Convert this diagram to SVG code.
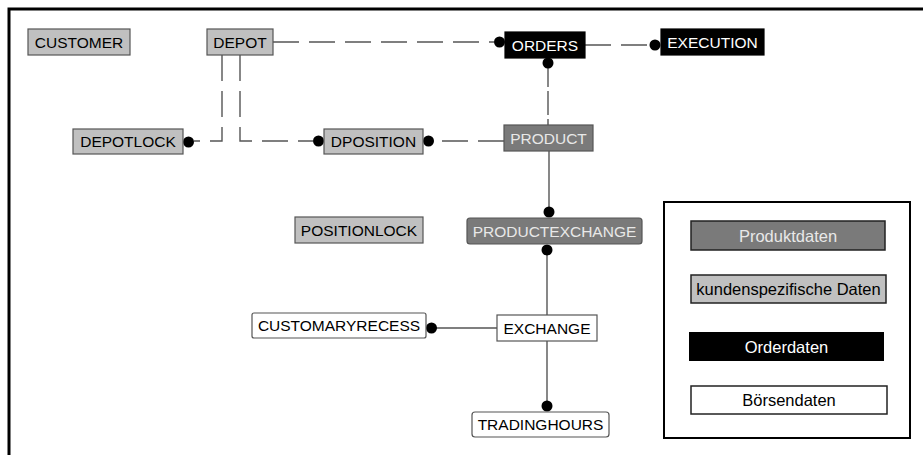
<svg xmlns="http://www.w3.org/2000/svg" width="923" height="455" viewBox="0 0 923 455">
  <style>
    text { font-family: "Liberation Sans", Arial, sans-serif; font-size: 15.5px; text-anchor: middle; }
    .box { stroke: #555; stroke-width: 1.2; }
    .cust { fill: #c0c0c0; }
    .prod { fill: #7a7a7a; }
    .order { fill: #000; stroke: #000; }
    .boerse { fill: #fff; }
    .t-dark { fill: #000; }
    .t-light { fill: #e8e8e8; }
    .t-white { fill: #fff; }
    .conn { fill: none; stroke: #555; stroke-width: 1.4; }
    .dash { stroke-dasharray: 26 10; }
    .longdash { stroke-dasharray: 24 4; }
    .dot { fill: #000; }
    .legend text { font-size: 16.5px; }
  </style>

  <rect x="9" y="9" width="940" height="470" fill="#fff" stroke="#000" stroke-width="3"/>

  <g id="connectors">
    <path class="conn dash" d="M273,42 H494"/>
    <circle class="dot" cx="499.5" cy="42" r="5.5"/>
    <path class="conn dash" d="M585,45 H650"/>
    <circle class="dot" cx="655" cy="45" r="5.5"/>
    <path class="conn longdash" d="M548,63 V125"/>
    <circle class="dot" cx="548" cy="63" r="5.5"/>
    <path class="conn dash" d="M222,55 V141 H194"/>
    <circle class="dot" cx="188.5" cy="142" r="5.5"/>
    <path class="conn dash" d="M240,55 V141 H313"/>
    <circle class="dot" cx="318.5" cy="141" r="5.5"/>
    <path class="conn dash" d="M504,141 H434"/>
    <circle class="dot" cx="428.5" cy="141" r="5.5"/>
    <path class="conn" d="M549,151 V212"/>
    <circle class="dot" cx="549" cy="212" r="5.5"/>
    <path class="conn" d="M547,250 V315"/>
    <circle class="dot" cx="547" cy="250" r="5.5"/>
    <path class="conn" d="M497,328 H432"/>
    <circle class="dot" cx="431.5" cy="328" r="5.5"/>
    <path class="conn" d="M547,341 V406"/>
    <circle class="dot" cx="547" cy="406" r="5.5"/>
  </g>

  <g id="customer">
    <rect class="box cust" x="28" y="29" width="102" height="26"/>
    <text class="t-dark" x="79" y="47.5">CUSTOMER</text>
  </g>
  <g id="depot">
    <rect class="box cust" x="207" y="29" width="66" height="26"/>
    <text class="t-dark" x="240" y="47.5">DEPOT</text>
  </g>
  <g id="depotlock">
    <rect class="box cust" x="73" y="129" width="110" height="25"/>
    <text class="t-dark" x="128" y="147">DEPOTLOCK</text>
  </g>
  <g id="dposition">
    <rect class="box cust" x="324" y="129" width="99" height="25"/>
    <text class="t-dark" x="373.5" y="147">DPOSITION</text>
  </g>
  <g id="orders">
    <rect class="box order" x="505" y="32" width="80" height="26"/>
    <text class="t-white" x="545" y="50.5">ORDERS</text>
  </g>
  <g id="execution">
    <rect class="box order" x="661" y="29" width="103" height="26"/>
    <text class="t-white" x="712.5" y="47.5">EXECUTION</text>
  </g>
  <g id="product">
    <rect class="box prod" x="504" y="125" width="89" height="26"/>
    <text class="t-light" x="548.5" y="143.5">PRODUCT</text>
  </g>
  <g id="positionlock">
    <rect class="box cust" x="295" y="217" width="128" height="26"/>
    <text class="t-dark" x="359" y="235.5">POSITIONLOCK</text>
  </g>
  <g id="productexchange">
    <rect class="box prod" x="467" y="218" width="175" height="26" rx="3"/>
    <text class="t-light" x="554.5" y="236.5">PRODUCTEXCHANGE</text>
  </g>
  <g id="customaryrecess">
    <rect class="box boerse" x="252" y="313" width="174" height="25" rx="2"/>
    <text class="t-dark" x="339" y="331">CUSTOMARYRECESS</text>
  </g>
  <g id="exchange">
    <rect class="box boerse" x="497" y="315" width="100" height="26"/>
    <text class="t-dark" x="547" y="333.5">EXCHANGE</text>
  </g>
  <g id="tradinghours">
    <rect class="box boerse" x="472" y="412" width="137" height="25" rx="3"/>
    <text class="t-dark" x="540.5" y="430">TRADINGHOURS</text>
  </g>

  <g id="legend" class="legend">
    <rect x="664" y="202" width="246" height="236" fill="#fff" stroke="#000" stroke-width="2"/>
    <rect x="691" y="221" width="194" height="29" fill="#7a7a7a" stroke="#222" stroke-width="1.5"/>
    <text class="t-light" x="788" y="241.5">Produktdaten</text>
    <rect x="691" y="275" width="195" height="28" fill="#c0c0c0" stroke="#222" stroke-width="1.5"/>
    <text class="t-dark" x="788.5" y="295">kundenspezifische Daten</text>
    <rect x="689" y="332" width="195" height="29" fill="#000"/>
    <text class="t-white" x="786.5" y="352.5">Orderdaten</text>
    <rect x="691" y="386" width="196" height="28" fill="#fff" stroke="#222" stroke-width="1.5"/>
    <text class="t-dark" x="789" y="406">Börsendaten</text>
  </g>
</svg>
